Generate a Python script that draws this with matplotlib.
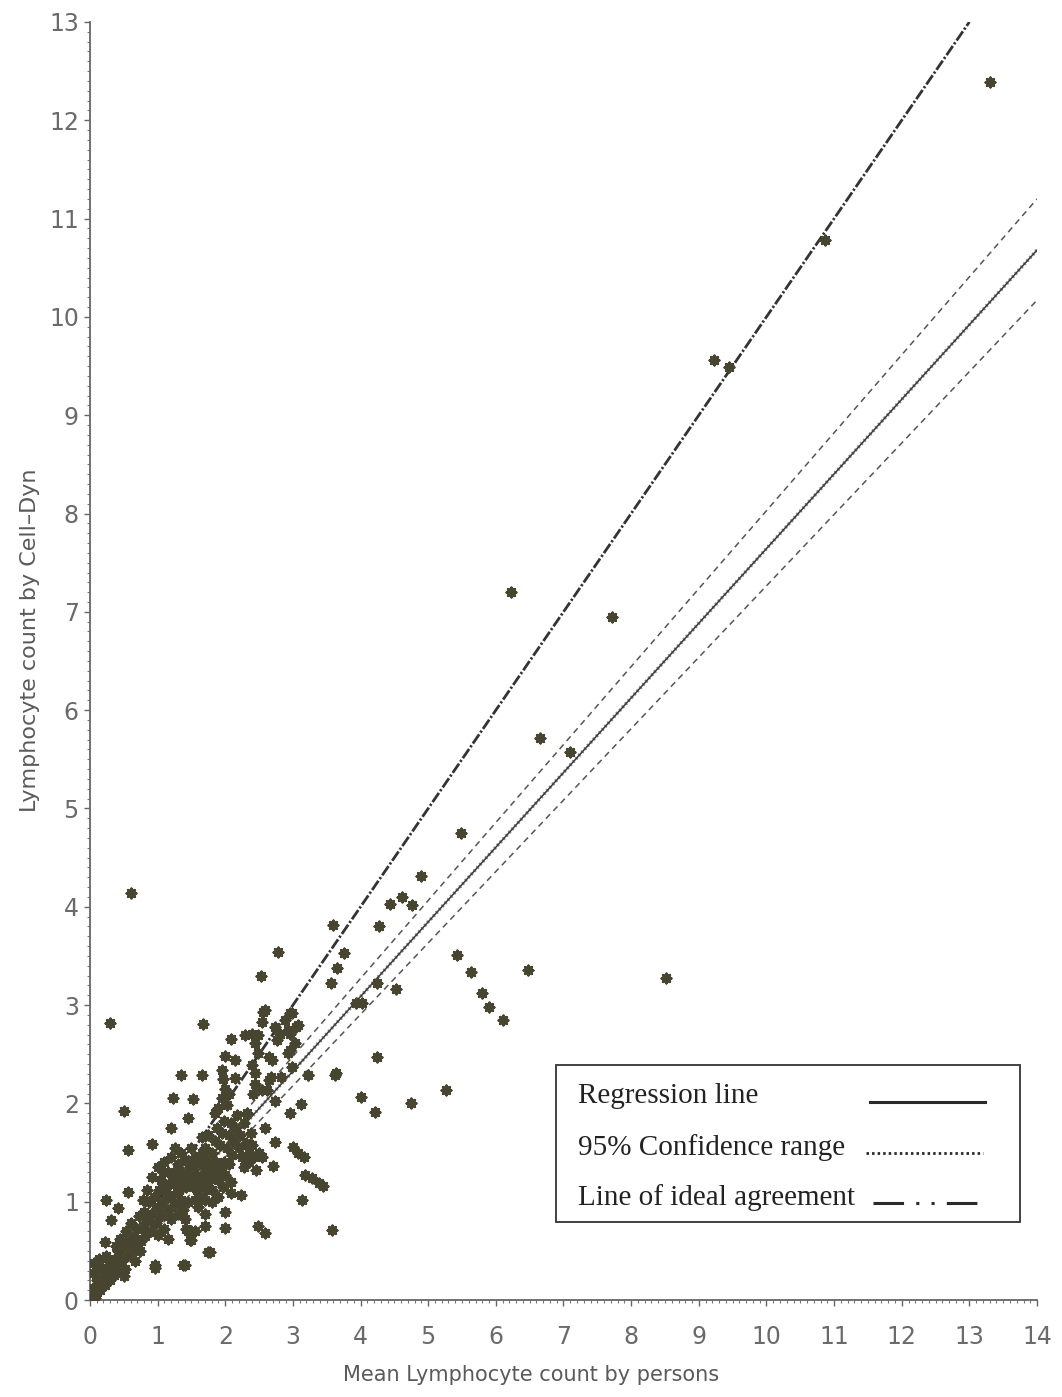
import matplotlib
matplotlib.use("Agg")
import matplotlib.pyplot as plt
from matplotlib.patches import Rectangle
from matplotlib.ticker import MultipleLocator

# 個々の測定値（人による平均リンパ球数, Cell-Dynによるリンパ球数）
cluster_x = [0.02, 0.05, 0.08, 0.10, 0.04, 0.12, 0.06, 0.15, 0.18, 0.20, 0.22, 0.25, 0.28, 0.30,
             0.33, 0.36, 0.38, 0.14, 0.24, 0.10,
             0.40, 0.42, 0.45, 0.48, 0.50, 0.53, 0.55, 0.58, 0.60, 0.62, 0.65, 0.68, 0.70, 0.72,
             0.75, 0.78, 0.80, 0.45, 0.52, 0.38, 0.66, 0.74,
             0.82, 0.85, 0.88, 0.90, 0.92, 0.95, 0.98, 1.00, 1.02, 1.05, 1.08, 1.10, 1.12, 1.15,
             1.18, 1.20, 1.22, 1.25, 1.28, 1.30, 0.85, 0.78, 1.00, 1.15,
             0.92, 1.00, 1.05, 1.10, 1.15, 1.20, 1.25, 1.30, 1.33, 1.36, 1.40, 1.42, 1.45, 1.48,
             1.50, 1.53, 1.56, 1.58, 1.60, 1.63, 1.66, 1.70, 1.72, 1.75, 1.78, 1.80, 1.83, 1.86,
             1.90, 1.93, 1.96, 2.00, 2.05, 2.08, 1.35, 1.50, 1.25, 1.65,
             1.35, 1.38, 1.40, 1.42, 1.45, 1.50, 1.55, 1.60, 1.62, 1.70, 1.80, 1.90, 1.55, 1.45,
             1.70, 1.75, 1.80, 1.85, 1.88, 1.92, 1.95, 1.98, 2.02, 2.05, 2.08, 2.10, 2.12, 2.15,
             2.18, 2.20, 2.22, 2.25, 2.28, 2.30, 2.32, 2.35, 2.38, 2.40,
             1.90, 1.95, 2.00, 1.97, 2.02, 2.05, 1.85,
             2.28, 2.35, 2.42, 2.45, 2.50, 2.55,
             1.08, 1.18, 1.28, 1.38, 1.48, 1.58, 1.68, 1.78, 1.88, 1.98, 1.12, 1.32, 1.52, 1.72]
cluster_y = [0.05, 0.12, 0.02, 0.20, 0.28, 0.33, 0.38, 0.10, 0.22, 0.32, 0.15, 0.28, 0.40, 0.20,
             0.33, 0.25, 0.42, 0.42, 0.45, 0.08,
             0.35, 0.50, 0.62, 0.40, 0.55, 0.70, 0.45, 0.60, 0.78, 0.50, 0.65, 0.55, 0.72, 0.85,
             0.60, 0.75, 0.90, 0.30, 0.32, 0.55, 0.40, 0.50,
             0.65, 0.80, 1.00, 0.70, 0.88, 1.05, 0.78, 0.95, 1.12, 0.85, 1.00, 0.72, 1.15, 0.92,
             1.05, 0.82, 1.20, 0.98, 1.10, 0.88, 1.12, 1.02, 0.66, 0.62,
             1.25, 1.35, 1.22, 1.40, 1.30, 1.45, 1.25, 1.38, 1.20, 1.30, 1.42, 1.15, 1.28, 1.38,
             1.20, 1.32, 1.45, 1.12, 1.25, 1.38, 1.18, 1.30, 1.42, 1.20, 1.35, 1.12, 1.28, 1.40,
             1.22, 1.33, 1.15, 1.27, 1.38, 1.20, 1.50, 1.55, 1.55, 1.50,
             1.02, 0.92, 0.82, 0.72, 0.70, 0.70, 0.70, 0.95, 1.05, 1.02, 1.00, 1.05, 1.02, 1.00,
             1.55, 1.68, 1.50, 1.62, 1.75, 1.58, 1.70, 1.82, 1.55, 1.68, 1.80, 1.48, 1.62, 1.75,
             1.88, 1.55, 1.68, 1.45, 1.80, 1.60, 1.90, 1.50, 1.70, 1.58,
             1.95, 2.05, 2.15, 2.25, 1.98, 2.10, 1.90,
             1.35, 1.40, 1.45, 1.32, 1.50, 1.45,
             1.30, 1.18, 1.33, 1.25, 1.35, 1.22, 1.26, 1.30, 1.33, 1.40, 1.10, 1.12, 1.15, 1.12]

spread_x = [0.24, 0.56, 0.41, 0.31, 0.22, 0.51, 0.96, 1.38, 1.70, 1.70, 2.00, 2.00, 1.77, 1.50,
            2.09, 2.24, 1.48, 1.75, 1.40, 0.96, 2.49, 2.59, 3.58, 3.13,
            3.18, 3.28, 3.38, 3.45, 2.71, 3.00, 3.08, 3.16, 2.74, 2.59, 2.74, 2.96, 3.12,
            0.56, 0.91, 1.20, 1.23, 1.53, 1.35, 1.65, 1.45, 1.65, 0.51, 0.29, 1.67, 0.61,
            2.00, 2.14, 2.09, 2.29, 2.44, 2.49, 2.59, 2.74, 2.88, 2.96, 3.08, 2.76, 2.96, 3.03,
            2.93, 2.98, 2.39, 2.44, 2.54, 2.64, 2.83, 2.69, 1.95, 2.15,
            2.56, 2.54, 2.98, 2.93, 3.05, 2.81, 2.39, 2.49, 2.64, 2.96, 2.44, 2.68, 2.61, 2.41,
            2.53, 2.78, 3.22, 3.63, 3.23, 3.62]
spread_y = [1.02, 1.10, 0.94, 0.81, 0.59, 0.24, 0.33, 0.36, 0.88, 0.75, 0.90, 0.73, 0.49, 0.61,
            1.09, 1.07, 0.61, 0.49, 0.36, 0.36, 0.75, 0.68, 0.71, 1.02,
            1.27, 1.24, 1.19, 1.16, 1.36, 1.56, 1.50, 1.45, 1.61, 1.75, 2.02, 1.90, 1.99,
            1.53, 1.59, 1.75, 2.05, 2.04, 2.29, 2.29, 1.85, 1.66, 1.92, 2.82, 2.81, 4.14,
            2.48, 2.44, 2.66, 2.70, 2.61, 2.70, 2.95, 2.78, 2.85, 2.92, 2.80, 2.64, 2.71, 2.61,
            2.51, 2.37, 2.39, 2.20, 2.14, 2.24, 2.27, 2.44, 2.34, 2.26,
            2.93, 2.83, 2.92, 2.75, 2.78, 2.71, 2.71, 2.51, 2.47, 2.54, 2.31, 2.27, 2.14, 2.10,
            3.30, 3.54, 2.29, 2.31, 2.29, 2.29]

outlier_x = [5.48, 4.90, 4.61, 4.43, 4.76, 3.60, 4.27, 3.76, 3.65, 3.57, 4.24, 4.53, 4.02, 3.93,
             5.42, 5.64, 6.47, 5.79, 5.90, 6.10, 8.52, 4.24, 5.26, 4.01, 4.21, 4.74,
             6.65, 7.10, 6.22, 7.72, 9.23, 9.45, 10.87, 13.30]
outlier_y = [4.75, 4.31, 4.10, 4.03, 4.02, 3.81, 3.80, 3.53, 3.38, 3.22, 3.22, 3.16, 3.02, 3.02,
             3.51, 3.34, 3.36, 3.12, 2.98, 2.85, 3.28, 2.47, 2.14, 2.07, 1.91, 2.00,
             5.72, 5.57, 7.20, 6.95, 9.56, 9.49, 10.78, 12.39]

# 直線（両端の値）
ideal_x = [0, 13]
ideal_y = [0, 13]
line_x = [0, 14]
reg_y = [0.05, 10.68]
ci_upper = [0.10, 11.20]
ci_lower = [0.00, 10.17]

fig = plt.figure(figsize=(10.62, 13.97), dpi=100)
ax = fig.add_axes([0.0847, 0.0694, 0.8918, 0.9149])

pts_x = cluster_x + spread_x + outlier_x
pts_y = cluster_y + spread_y + outlier_y
ax.scatter(pts_x, pts_y, marker=(8, 2, 0), s=44, linewidths=2.0, color="#47442f", zorder=3)

# 理想一致線・回帰線・95%信頼区間
ax.plot(ideal_x, ideal_y, color="#333333", lw=2.0,
        linestyle=(0, (4, 0.8, 0.8, 0.8)), zorder=2)
ax.plot(line_x, reg_y, color="#3a3a3a", lw=1.1, zorder=2)
ax.plot(line_x, reg_y, color="#8a8a8a", lw=2.6, linestyle=(0, (0.5, 0.7)), zorder=1)
ax.plot(line_x, ci_upper, color="#555555", lw=1.1, linestyle=(0, (4, 3)), zorder=2)
ax.plot(line_x, ci_lower, color="#555555", lw=1.1, linestyle=(0, (4, 3)), zorder=2)

ax.set_xlim(0, 14)
ax.set_ylim(0, 13)
ax.set_xticks(range(0, 15))
ax.set_yticks(range(0, 14))
ax.xaxis.set_minor_locator(MultipleLocator(0.1))
ax.yaxis.set_minor_locator(MultipleLocator(0.1))
for s in ["top", "right"]:
    ax.spines[s].set_visible(False)
for s in ["left", "bottom"]:
    ax.spines[s].set_color("#666666")
    ax.spines[s].set_linewidth(1.3)
ax.tick_params(which="major", direction="out", length=4, width=1, color="#666666",
               labelcolor="#6a6a6a", labelsize=17)
ax.tick_params(which="minor", direction="out", length=2, width=0.8, color="#777777")
ax.tick_params(axis="x", which="major", pad=14)
ax.tick_params(axis="y", which="major", pad=4)

fig.text(0.5, 0.0157, "Mean Lymphocyte count by persons", ha="center", va="center",
         fontsize=15, color="#5a5a5a")
fig.text(0.028, 0.542, "Lymphocyte count by Cell\u2013Dyn", ha="center", va="center",
         rotation=90, fontsize=16, color="#5a5a5a")

# 凡例（枠・文字・線の見本）
ax.add_patch(Rectangle((0.492, 0.061), 0.49, 0.123, transform=ax.transAxes,
                       facecolor="white", edgecolor="#333333", lw=1.3, zorder=5))
legend_rows = [("Regression line", 0.160), ("95% Confidence range", 0.119),
               ("Line of ideal agreement", 0.080)]
for label, yy in legend_rows:
    ax.text(0.515, yy, label, transform=ax.transAxes, family="Liberation Serif",
            fontsize=21, color="#222222", va="center", ha="left", zorder=6)
ax.plot([0.824, 0.945], [0.155, 0.155], transform=ax.transAxes, color="#2a2a2a",
        lw=2.2, zorder=6)
ax.plot([0.819, 0.943], [0.115, 0.115], transform=ax.transAxes, color="#2a2a2a",
        lw=2.0, linestyle=(0, (0.9, 1.1)), zorder=6)
ax.plot([0.827, 0.937], [0.076, 0.076], transform=ax.transAxes, color="#2a2a2a",
        lw=2.2, linestyle=(0, (10, 4, 1, 4, 1, 4)), zorder=6)

fig.savefig("out.png", dpi=100, facecolor="white")
